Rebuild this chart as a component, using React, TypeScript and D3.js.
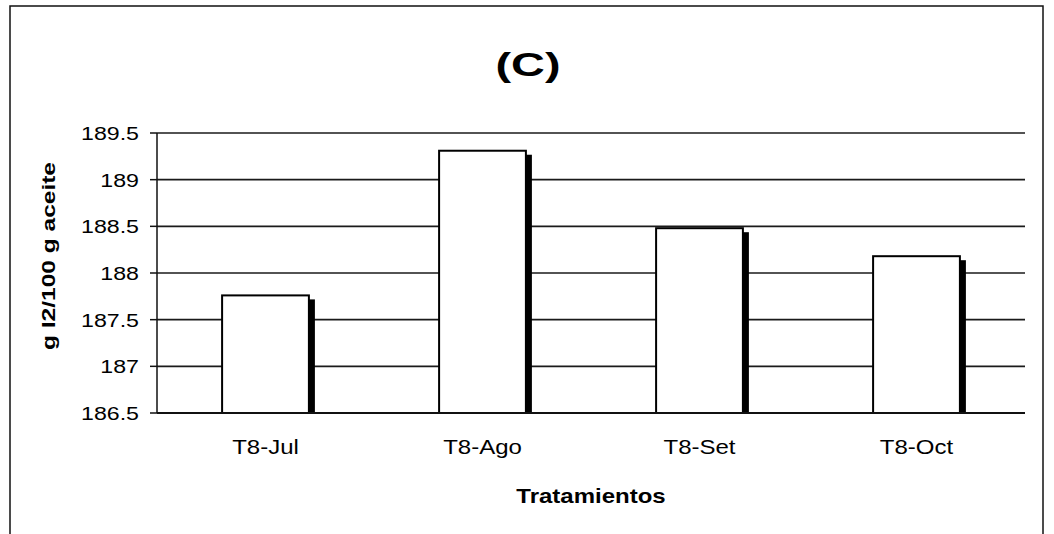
import React from "react";
import * as d3 from "d3";

const categories = ["T8-Jul", "T8-Ago", "T8-Set", "T8-Oct"];
const values = [187.76, 189.31, 188.48, 188.18];
const yTicks = [186.5, 187, 187.5, 188, 188.5, 189, 189.5];
const title = "(C)";
const xTitle = "Tratamientos";
const yTitle = "g I2/100 g aceite";

const W = 1054;
const H = 534;
const plot = { left: 157, right: 1025, top: 133, bottom: 413 };
const FONT = "'Liberation Sans', Arial, Helvetica, sans-serif";

export default function App() {
  const x = d3
    .scaleBand<string>()
    .domain(categories)
    .range([plot.left, plot.right])
    .paddingInner(0.6)
    .paddingOuter(0.3);
  const y = d3.scaleLinear().domain([186.5, 189.5]).range([plot.bottom, plot.top]);
  const bw = x.bandwidth();
  const step = x.step();

  return (
    <svg
      width={W}
      height={H}
      style={{ position: "absolute", left: 0, top: 0, background: "#fff" }}
      fontFamily={FONT}
    >
      <rect x={0} y={0} width={W} height={H} fill="#fff" />
      {/* outer chart border */}
      <rect x={10} y={6} width={1033} height={560} fill="none" stroke="#111" strokeWidth={1.5} />

      {/* title */}
      <text
        x={528}
        y={76}
        textAnchor="middle"
        fontSize={33}
        fontWeight="bold"
        textLength={65}
        lengthAdjust="spacingAndGlyphs"
        fill="#000"
      >
        {title}
      </text>

      {/* gridlines */}
      {yTicks.map((t) => (
        <line
          key={"g" + t}
          x1={plot.left}
          x2={plot.right}
          y1={y(t)}
          y2={y(t)}
          stroke="#1a1a1a"
          strokeWidth={1.6}
        />
      ))}

      {/* y axis */}
      <line x1={plot.left} x2={plot.left} y1={plot.top} y2={plot.bottom} stroke="#111" strokeWidth={1.5} />
      {yTicks.map((t) => (
        <g key={"t" + t}>
          <line x1={plot.left - 7} x2={plot.left} y1={y(t)} y2={y(t)} stroke="#111" strokeWidth={1.5} />
          <g transform={`translate(139,${y(t)}) scale(1.22,1)`}>
            <text x={0} y={0} dy="0.36em" textAnchor="end" fontSize={19} fill="#000">
              {d3.format("")(t)}
            </text>
          </g>
        </g>
      ))}

      {/* bars with shadow */}
      {categories.map((c, i) => {
        const bx = x(c)!;
        const by = y(values[i]);
        return (
          <g key={c}>
            <rect
              x={bx + bw}
              y={by + 4}
              width={6}
              height={plot.bottom - by - 4}
              fill="#000"
            />
            <rect
              x={bx}
              y={by}
              width={bw}
              height={plot.bottom - by}
              fill="#fff"
              stroke="#000"
              strokeWidth={2}
            />
          </g>
        );
      })}

      {/* x axis */}
      <line x1={plot.left} x2={plot.right} y1={plot.bottom} y2={plot.bottom} stroke="#111" strokeWidth={1.8} />
      {categories.map((c) => (
        <g key={"l" + c} transform={`translate(${x(c)! + bw / 2},454) scale(1.2,1)`}>
          <text x={0} y={0} textAnchor="middle" fontSize={20} fill="#000">
            {c}
          </text>
        </g>
      ))}

      {/* axis titles */}
      <g transform={`translate(${(plot.left + plot.right) / 2},503) scale(1.2,1)`}>
        <text x={0} y={0} textAnchor="middle" fontSize={20} fontWeight="bold" fill="#000">
          {xTitle}
        </text>
      </g>
      <text
        transform="translate(55,256) rotate(-90)"
        x={0}
        y={0}
        textAnchor="middle"
        fontSize={18}
        fontWeight="bold"
        textLength={188}
        lengthAdjust="spacingAndGlyphs"
        fill="#000"
      >
        {yTitle}
      </text>
      {step > 0 ? null : null}
    </svg>
  );
}
